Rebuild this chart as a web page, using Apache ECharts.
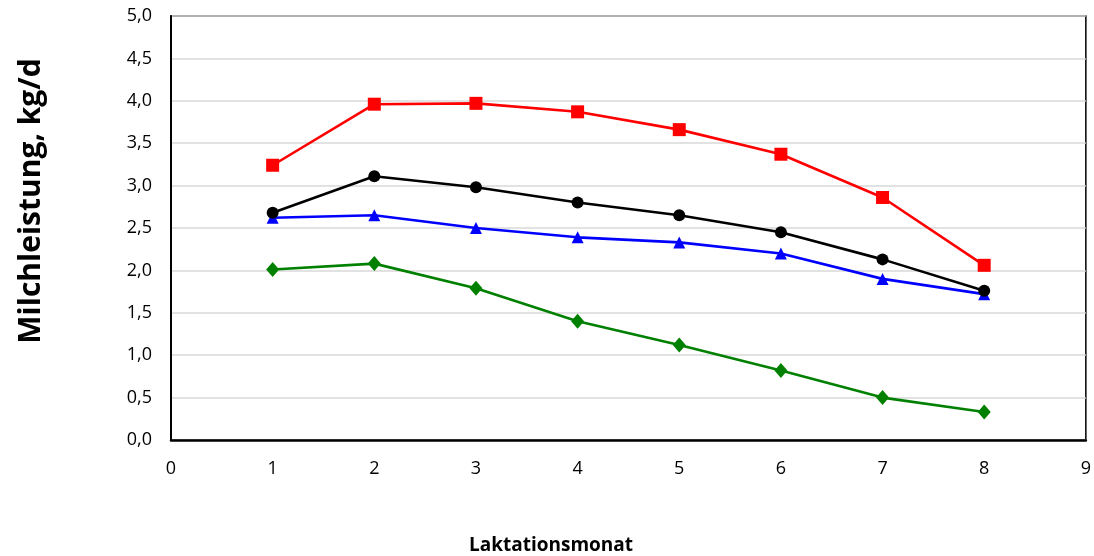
<!DOCTYPE html>
<html>
<head>
<meta charset="utf-8">
<script src="https://cdn.jsdelivr.net/npm/echarts@6/dist/echarts.min.js"></script>
<style>
  html, body { margin: 0; padding: 0; background: #fff; }
  #chart { width: 1094px; height: 556px; }
</style>
</head>
<body>
<div id="chart"></div>
<script>
// Laktationsmonate 1–8
const months = [1, 2, 3, 4, 5, 6, 7, 8];
// Milchleistung je Gruppe, kg/d
const seriesRed   = [3.24, 3.96, 3.97, 3.87, 3.66, 3.37, 2.86, 2.06];
const seriesBlack = [2.68, 3.11, 2.98, 2.80, 2.65, 2.45, 2.13, 1.76];
const seriesBlue  = [2.62, 2.65, 2.50, 2.39, 2.33, 2.20, 1.90, 1.72];
const seriesGreen = [2.01, 2.08, 1.79, 1.40, 1.12, 0.82, 0.50, 0.33];
const yTicks = ['0,0','0,5','1,0','1,5','2,0','2,5','3,0','3,5','4,0','4,5','5,0'];

const FONT = '"Open Sans", Lato, sans-serif';
const pairs = arr => months.map((m, i) => [m, arr[i]]);

function lineSeries(name, data, color, symbol, size) {
  return {
    name, type: 'line', data: pairs(data),
    symbol, symbolSize: size,
    lineStyle: { color, width: 2.6 },
    itemStyle: { color },
    emphasis: { disabled: true },
    z: 3
  };
}

const chart = echarts.init(document.getElementById('chart'));
chart.setOption({
  animation: false,
  backgroundColor: '#fff',
  grid: {
    left: 171, top: 16, right: 4, bottom: 116,
    show: true, borderColor: '#000', borderWidth: 1.5
  },
  xAxis: {
    type: 'value', min: 0, max: 9, interval: 1,
    axisLine: { show: true, lineStyle: { color: '#000', width: 2.5 } },
    axisTick: { show: false },
    splitLine: { show: false },
    axisLabel: { color: '#000', fontSize: 18, fontFamily: FONT, margin: 20 }
  },
  yAxis: {
    type: 'value', min: 0, max: 5, interval: 0.5,
    axisLine: { show: true, lineStyle: { color: '#000', width: 2 } },
    axisTick: { show: false },
    splitLine: { show: true, lineStyle: { color: '#d9d9d9', width: 1.5 } },
    axisLabel: {
      color: '#000', fontSize: 18, fontFamily: FONT, margin: 19,
      formatter: v => yTicks[Math.round(v / 0.5)]
    }
  },
  graphic: [
    {
      type: 'text', x: 31, y: 201, rotation: Math.PI / 2,
      style: {
        text: 'Milchleistung, kg/d', fill: '#000',
        font: 'bold 30px ' + FONT, align: 'center', verticalAlign: 'middle'
      }
    },
    {
      type: 'text', x: 551, y: 546,
      style: {
        text: 'Laktationsmonat', fill: '#000',
        font: 'bold 19px ' + FONT, align: 'center', verticalAlign: 'middle'
      }
    }
  ],
  series: [
    lineSeries('A', seriesGreen, '#008000', 'diamond', [13, 15]),
    lineSeries('B', seriesBlue,  '#0000ff', 'triangle', 12),
    lineSeries('C', seriesBlack, '#000000', 'circle', 12),
    lineSeries('D', seriesRed,   '#ff0000', 'rect', 13)
  ]
});
</script>
</body>
</html>
